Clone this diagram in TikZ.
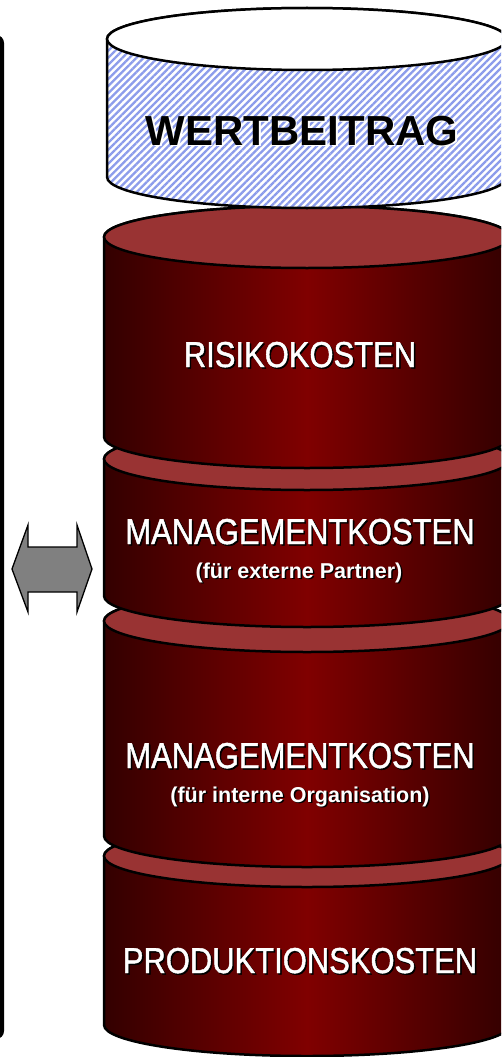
\documentclass[tikz,border=0pt]{standalone}
\usepackage{fontspec}
\setmainfont{Liberation Sans}
\newfontfamily\narrowfont[FakeStretch=0.86,FakeBold=1.2]{Liberation Sans}
\usepackage{tikz}
\usetikzlibrary{patterns.meta}
\definecolor{lidred}{HTML}{993333}
\definecolor{bodyred}{HTML}{800000}
\definecolor{darkred}{HTML}{330000}
\definecolor{hatchblue}{HTML}{8C9CEB}

% text with a shadow behind it
\newcommand\shd[2]{\rlap{\kern1.5pt\raisebox{-1.5pt}{\color{#1}#2}}#2}
% barrel: centre x, top y, bottom y, body style, lid style
\newcommand\rx{203}
\newcommand\ry{31}
\newcommand\barrel[5]{%
  \path[#4] (#1-\rx,#2) -- (#1-\rx,#3)
     arc[start angle=180,end angle=360,x radius=\rx pt,y radius=\ry pt]
     -- (#1+\rx,#2)
     arc[start angle=0,end angle=180,x radius=\rx pt,y radius=\ry pt] -- cycle;
  \path[#5] (#1,#2) ellipse[x radius=\rx pt,y radius=\ry pt];
}

\begin{document}
\begin{tikzpicture}[x=1pt,y=1pt,
   redbody/.style={left color=darkred,right color=darkred,middle color=bodyred,draw=black,line width=2.5pt},
   redlid/.style={fill=lidred,draw=black,line width=2.5pt},
   hatchbody/.style={preaction={fill=white},pattern={Lines[angle=45,distance=5pt,line width=2.3pt]},pattern color=hatchblue,draw=black,line width=2.5pt},
   whitelid/.style={fill=white,draw=black,line width=2.5pt},
   title/.style={inner sep=0pt,anchor=base,text=white,font=\narrowfont\fontsize{36}{40}\selectfont},
   subtitle/.style={inner sep=0pt,anchor=base,text=white,font=\bfseries\fontsize{21.5}{24}\selectfont},
   twinarrow/.style={fill=gray,draw=black,line width=1.3pt,line join=miter}]
   \useasboundingbox (0,0) rectangle (501,-1057);
   \clip (0,0) rectangle (501,-1057);

   % frame on the left, only its edge is seen
   \draw[line width=4pt,rounded corners=6pt] (-40,-37) rectangle (2,-1037);

   % stack, drawn bottom up
   \barrel{307}{-856}{-1025}{redbody}{redlid}
   \barrel{307}{-621}{-836}{redbody}{redlid}
   \barrel{307}{-459}{-596}{redbody}{redlid}
   \barrel{307}{-237}{-437}{redbody}{redlid}
   \renewcommand\rx{200}
   \barrel{307}{-39}{-177}{hatchbody}{whitelid}

   \node[inner sep=0pt,anchor=base,font=\bfseries\fontsize{42}{46}\selectfont] (wert) at (302,-145) {\shd{white}{WERTBEITRAG}};
   \node[title] (risk) at (300,-367) {\shd{black}{RISIKOKOSTEN}};
   \node[title] (ext) at (300,-544) {\shd{black}{MANAGEMENTKOSTEN}};
   \node[subtitle] (extsub) at (299,-578) {\shd{black}{(für externe Partner)}};
   \node[title] (int) at (300,-768) {\shd{black}{MANAGEMENTKOSTEN}};
   \node[subtitle] (intsub) at (300,-802) {\shd{black}{(für interne Organisation)}};
   \node[title] (prod) at (300,-973) {\shd{black}{PRODUKTIONSKOSTEN}};

   \draw[twinarrow] (12,-569) -- (28,-525) -- (28,-547) -- (77,-547) -- (77,-525)
      -- (92,-569) -- (77,-612) -- (77,-592) -- (28,-592) -- (28,-612) -- cycle;
\end{tikzpicture}
\end{document}
